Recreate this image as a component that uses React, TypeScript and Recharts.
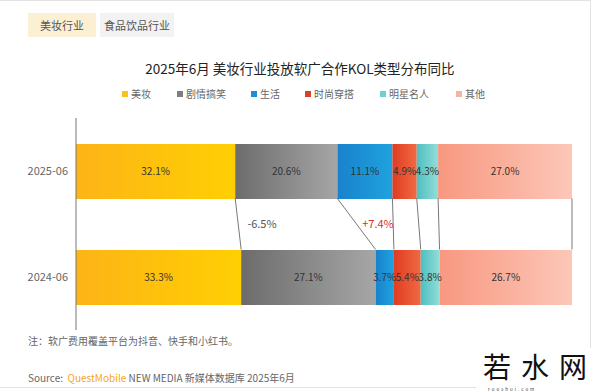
import React from 'react'
import { BarChart, Bar, XAxis, YAxis, LabelList, ReferenceLine } from 'recharts'

const periods = ['2025-06', '2024-06']
const kolTypes = ['美妆', '剧情搞笑', '生活', '时尚穿搭', '明星名人', '其他']
const share2025 = [32.1, 20.6, 11.1, 4.9, 4.3, 27.0]
const share2024 = [33.3, 27.1, 3.7, 5.4, 3.8, 26.7]
const changeTypes = ['剧情搞笑', '生活']

const gradients: Record<string, [string, string]> = {
  美妆: ['#FDB417', '#FFCF02'],
  剧情搞笑: ['#6C6C6C', '#A6A6A6'],
  生活: ['#1882CC', '#20A2DE'],
  时尚穿搭: ['#E03C22', '#F06A42'],
  明星名人: ['#4DBFC0', '#93DDD8'],
  其他: ['#F89880', '#FCC7B8'],
}
const legendColors: Record<string, string> = {
  美妆: '#F9C31B',
  剧情搞笑: '#7F7F7F',
  生活: '#1F8FCF',
  时尚穿搭: '#D9402A',
  明星名人: '#71CFCF',
  其他: '#F5B3A3',
}

const BAR = 55
const FONT = '"Noto Sans CJK SC", "Noto Sans", sans-serif'

const data = periods.map((p, i) => {
  const vals = i === 0 ? share2025 : share2024
  const row: any = { period: p }
  kolTypes.forEach((t, k) => (row[t] = vals[k]))
  return row
})

function cumulative(vals: number[]) {
  let s = 0
  return vals.map((v) => (s += v))
}
const cum25 = cumulative(share2025)
const cum24 = cumulative(share2024)

const Connector = (props: any) => {
  const { x1, y1, x2, y2 } = props
  return <line x1={x1} y1={y1 + BAR / 2} x2={x2} y2={y2 - BAR / 2} stroke="#555" strokeWidth={0.8} />
}

const changeText = (t: string) => {
  const k = kolTypes.indexOf(t)
  const d = share2025[k] - share2024[k]
  return `${d > 0 ? '+' : ''}${d.toFixed(1)}%`
}
const changePos: Record<string, { left: number; color: string }> = {
  剧情搞笑: { left: 262, color: '#555' },
  生活: { left: 378, color: '#D9302A' },
}

export default function App() {
  return (
    <div style={{ position: 'absolute', left: 0, top: 0, width: 600, height: 392, background: '#fff', fontFamily: FONT, overflow: 'hidden' }}>
      <div style={{ position: 'absolute', left: 0, top: 0, width: 591, height: 388, borderTop: '1px solid #e2e2e2', borderRight: '1px solid #e2e2e2', borderBottom: '1px solid #e2e2e2', boxSizing: 'border-box' }} />
      <div style={{ position: 'absolute', left: 28, top: 13, width: 68, height: 24, background: '#FCF0D4', fontSize: 11, color: '#555', lineHeight: '24px', textAlign: 'center' }}>美妆行业</div>
      <div style={{ position: 'absolute', left: 100, top: 13, width: 74, height: 24, background: '#F2F2F2', fontSize: 11, color: '#555', lineHeight: '24px', textAlign: 'center' }}>食品饮品行业</div>
      <div style={{ position: 'absolute', left: 0, width: 600, top: 58, textAlign: 'center', fontSize: 13.5, color: '#222' }}>
        2025年6月 美妆行业投放软广合作KOL类型分布同比
      </div>
      {kolTypes.map((t, i) => (
        <div key={t} style={{ position: 'absolute', left: [122, 177, 251, 305, 380, 456][i], top: 86, fontSize: 10, color: '#666', display: 'flex', alignItems: 'center' }}>
          <span style={{ display: 'inline-block', width: 6, height: 6, background: legendColors[t], marginRight: 3 }} />
          {t}
        </div>
      ))}
      <div style={{ position: 'absolute', left: 0, top: 0 }}>
        <BarChart width={600} height={392} data={data} layout="vertical" margin={{ top: 118, right: 28, bottom: 62, left: 14 }}>
          <defs>
            {kolTypes.map((t, i) => (
              <linearGradient key={t} id={`g${i}`} x1="0" y1="0" x2="1" y2="0">
                <stop offset="0%" stopColor={gradients[t][0]} />
                <stop offset="100%" stopColor={gradients[t][1]} />
              </linearGradient>
            ))}
          </defs>
          <XAxis type="number" domain={[0, 100]} hide />
          <YAxis
            type="category"
            dataKey="period"
            width={62}
            tickLine={false}
            axisLine={{ stroke: '#777', strokeWidth: 1 }}
            tick={{ fontSize: 11, fill: '#666', fontFamily: FONT }}
          />
          {kolTypes.map((t, i) => (
            <Bar key={t} dataKey={t} stackId="s" fill={`url(#g${i})`} barSize={BAR} isAnimationActive={false}>
              <LabelList
                dataKey={t}
                position="center"
                formatter={(v: any) => `${Number(v).toFixed(1)}%`}
                style={{ fontSize: 10, fill: '#333', fontFamily: FONT }}
              />
            </Bar>
          ))}
          {cum25.map((c, k) => (
            <ReferenceLine
              key={k}
              segment={[
                { x: c, y: periods[0] },
                { x: cum24[k], y: periods[1] },
              ]}
              shape={<Connector />}
            />
          ))}
        </BarChart>
      </div>
      {changeTypes.map((t) => (
        <div key={t} style={{ position: 'absolute', left: changePos[t].left - 20, width: 40, top: 215, textAlign: 'center', fontSize: 11, color: changePos[t].color }}>
          {changeText(t)}
        </div>
      ))}
      <div style={{ position: 'absolute', left: 28, top: 333, fontSize: 10, color: '#666' }}>注：软广费用覆盖平台为抖音、快手和小红书。</div>
      <div style={{ position: 'absolute', left: 28, top: 370, fontSize: 10, color: '#666' }}>
        Source:&nbsp;&nbsp;<span style={{ color: '#F5A623' }}>QuestMobile</span> NEW MEDIA 新媒体数据库 2025年6月
      </div>
      <div style={{ position: 'absolute', left: 476, top: 348, width: 124, height: 44, background: '#fff' }} />
      <div style={{ position: 'absolute', left: 483, top: 352, fontSize: 28, color: '#111', letterSpacing: 10, lineHeight: '28px', height: 28, whiteSpace: 'nowrap' }}>若水网</div>
      <div style={{ position: 'absolute', left: 488, top: 387, fontSize: 4.5, color: '#444', letterSpacing: 2, lineHeight: '5px', whiteSpace: 'nowrap' }}>ruoshui.com</div>
    </div>
  )
}
